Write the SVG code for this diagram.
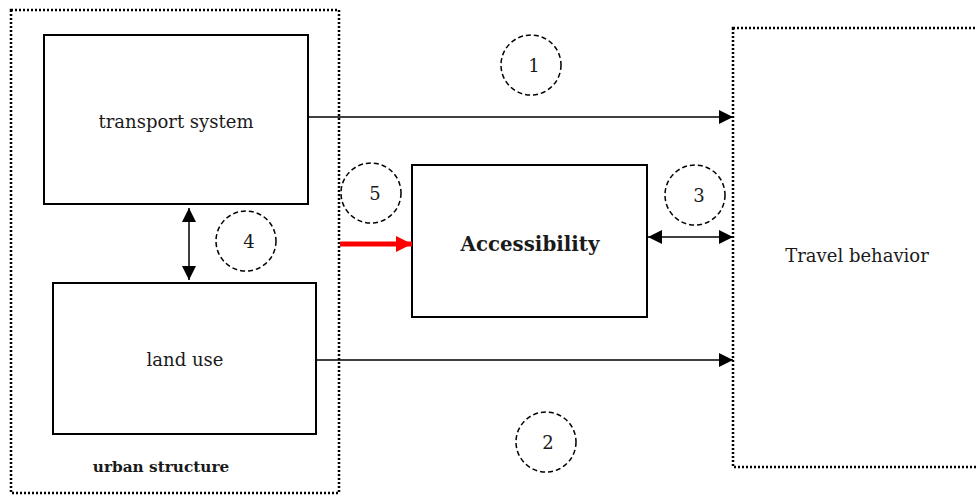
<svg xmlns="http://www.w3.org/2000/svg" width="977" height="496" viewBox="0 0 977 496">
<defs>
<style>
.box{fill:#fff;stroke:#000;stroke-width:2}
.dot{fill:none;stroke:#000;stroke-width:2.5;stroke-dasharray:2 2}
.circ{fill:none;stroke:#000;stroke-width:1.5;stroke-dasharray:5 3}
.t{font-family:"DejaVu Serif","Liberation Serif",serif;font-size:18px;fill:#1a1a1a;text-anchor:middle}
.b{font-weight:bold}
.ln{stroke:#000;stroke-width:1.5;fill:none}
</style>
<marker id="ah" viewBox="0 0 10 10" refX="10" refY="5" markerWidth="14" markerHeight="14" markerUnits="userSpaceOnUse" orient="auto-start-reverse"><path d="M0,0 L10,5 L0,10 Z" fill="#000"/></marker>
<marker id="ahr" viewBox="0 0 10 10" refX="10" refY="5" markerWidth="18" markerHeight="16" markerUnits="userSpaceOnUse" orient="auto"><path d="M0,0 L10,5 L0,10 Z" fill="#f00"/></marker>
</defs>
<rect width="977" height="496" fill="#fff"/>
<g id="urban-structure">
<rect class="dot" x="11" y="10" width="328" height="483"/>
<text class="t b" x="161" y="472" style="font-size:15.3px">urban structure</text>
</g>
<g id="transport-system">
<rect class="box" x="44" y="35" width="264" height="169"/>
<text class="t" x="176" y="128">transport system</text>
</g>
<g id="land-use">
<rect class="box" x="53" y="283" width="263" height="151"/>
<text class="t" x="185" y="366">land use</text>
</g>
<g id="accessibility">
<rect class="box" x="412" y="165" width="235" height="152"/>
<text class="t b" x="530" y="251" style="font-size:19.8px">Accessibility</text>
</g>
<g id="travel-behavior">
<rect class="dot" x="733" y="28" width="250" height="439"/>
<text class="t" x="857" y="262">Travel behavior</text>
</g>
<g id="labels">
<circle class="circ" cx="531" cy="65" r="30"/>
<text class="t" x="534" y="72">1</text>
<circle class="circ" cx="546" cy="442" r="30"/>
<text class="t" x="548" y="449">2</text>
<circle class="circ" cx="695" cy="195" r="30"/>
<text class="t" x="699" y="202">3</text>
<circle class="circ" cx="246" cy="241" r="30"/>
<text class="t" x="249" y="248">4</text>
<circle class="circ" cx="371" cy="193" r="30"/>
<text class="t" x="375" y="200">5</text>
</g>
<g id="connectors">
<line class="ln" x1="308" y1="117" x2="733" y2="117" marker-end="url(#ah)"/>
<line class="ln" x1="316" y1="360" x2="733" y2="360" marker-end="url(#ah)"/>
<line class="ln" x1="648" y1="237" x2="733" y2="237" marker-start="url(#ah)" marker-end="url(#ah)"/>
<line class="ln" x1="189" y1="208" x2="189" y2="280" marker-start="url(#ah)" marker-end="url(#ah)"/>
<line x1="340" y1="244" x2="412" y2="244" stroke="#f00" stroke-width="5" marker-end="url(#ahr)" style="stroke-linecap:butt"/>
</g>
</svg>
